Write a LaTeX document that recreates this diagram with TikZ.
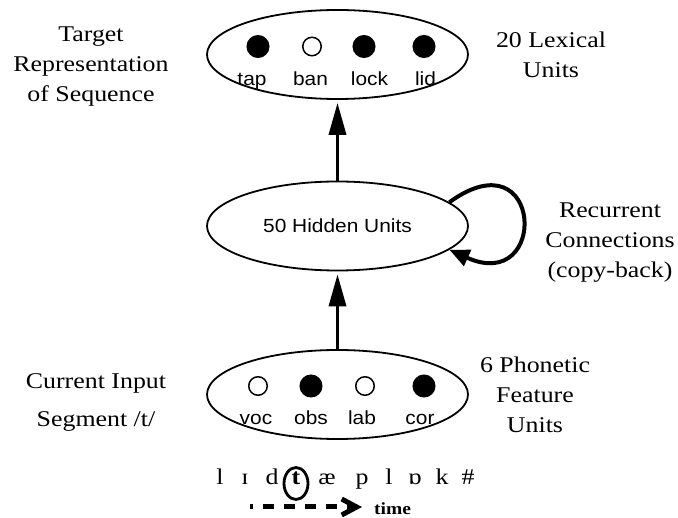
\documentclass[tikz,border=0pt]{standalone}
\usepackage{fontspec}
\setmainfont{Liberation Serif}[FakeStretch=1.15]
\setsansfont{Liberation Sans}[FakeStretch=1.1]
\usetikzlibrary{shapes.geometric,arrows.meta}

\begin{document}
\begin{tikzpicture}[x=1pt,y=-1pt,
    layer/.style={ellipse, draw, line width=1.8pt, minimum width=261pt, minimum height=89pt, inner sep=0pt},
    unit/.style={circle, draw, line width=1.5pt, minimum size=#1, inner sep=0pt},
    word/.style={font=\sffamily\fontsize{19}{21}\selectfont, anchor=base, inner sep=0pt},
    note/.style={font=\fontsize{22.5}{30}\selectfont, align=center, inner sep=0pt},
    phon/.style={font=\fontsize{22.5}{26}\selectfont, anchor=base, inner sep=0pt},
    feed/.style={line width=3.5pt, shorten >=3pt, -{Triangle[length=32pt,width=17pt]}},
    recur/.style={line width=4pt, -{Triangle[length=20pt,width=17pt]}},
    timeline/.style={line width=5pt, dash pattern=on 11pt off 10pt, dash phase=8pt,
      -{Straight Barb[length=15pt,width=16pt]}}]
  \useasboundingbox (0,0) rectangle (678,518);

  % the three layers
  \node[layer] (lex) at (337.5,54.5) {};
  \node[layer, font=\sffamily\fontsize{19}{21}\selectfont] (hid) at (337.5,226) {50 Hidden Units};
  \node[layer] (inp) at (337.5,394.5) {};

  % output units
  \foreach \x/\f/\s [count=\i] in {258/black/21.5pt,312/white/18.5pt,364/black/21.5pt,424/black/21.5pt}
    \node[unit=\s, fill=\f] (out\i) at (\x,46.5) {};
  \foreach \x/\w [count=\i] in {252/tap,310.5/ban,369.5/lock,425.5/lid}
    \node[word] (outw\i) at (\x,86) {\w};

  % input units
  \foreach \x/\f/\s [count=\i] in {258/white/18.5pt,311/black/21.5pt,365/white/18.5pt,424/black/21.5pt}
    \node[unit=\s, fill=\f] (in\i) at (\x,386) {};
  \foreach \x/\w [count=\i] in {256/voc,311/obs,362/lab,420/cor}
    \node[word] (inw\i) at (\x,425) {\w};

  % connections
  \draw[feed] (inp) -- (hid);
  \draw[feed] (hid) -- (lex);
  \draw[recur] (hid.12) .. controls +(94,-68) and +(100,45) .. (hid.-12);

  % side labels
  \node[note] (target) at (91,67) {Target\\Representation\\of Sequence};
  \node[note] (lexnote) at (551,54.8) {20 Lexical\\Units};
  \node[note] (recnote) at (610,242.5) {Recurrent\\Connections\\(copy-back)};
  \node[note] (featnote) at (535,395.3) {6 Phonetic\\Feature\\Units};
  \node[note] (segnote) at (96,402) {Current Input\\[8pt]Segment /t/};

  % the input string, current segment ringed
  \foreach \x/\p [count=\i] in {220/l,245/ɪ,272/d,327/æ,362/p,389/l,415/ɒ,442/k,468/\#}
    \node[phon] (ph\i) at (\x,485) {\p};
  \node[phon, font=\fontsize{22.5}{26}\selectfont\bfseries] (cur) at (296,485) {t};
  \node[ellipse, draw, line width=2.8pt, minimum width=24pt, minimum height=32pt, inner sep=0pt] (ring) at (296,483.5) {};

  % time axis
  \coordinate (tstart) at (250,507);
  \coordinate (tend) at (362,507);
  \draw[timeline] (tstart) -- (tend);
  \node[font=\fontsize{17}{20}\selectfont\bfseries, anchor=base west, inner sep=0pt] (time) at (374,515) {time};
\end{tikzpicture}
\end{document}
